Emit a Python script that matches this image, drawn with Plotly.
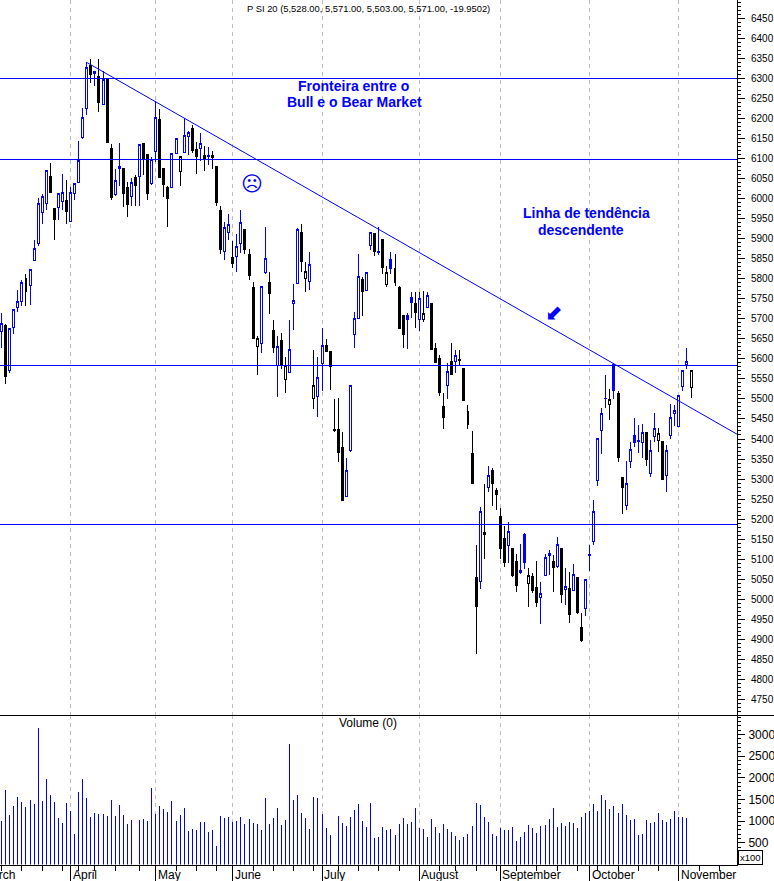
import plotly.graph_objects as go

W, H = 774, 881
AX_R = 737
PANEL = 715
BASE = 864.5
FONT = "Liberation Sans"
BLUE = "#0000ff"

kinds = ("UDUUUUDUUU" "UUDDUUDUUU" "UUDSDUDDUS" "DDUDUDDUUD" "DDUUHUUDDU"
         "DSDDDUUDUU" "DDDHUUDDUD" "HUUUDHUHUU" "DDDDDUUUUD" "UUDSDHSDDD"
         "SSDUHUDDDD" "UDUDDDDDUH" "UDDDDUDDUS" "HDDUUUDUDU" "DUDDUSUUUS"
         "HSDDUUSSUD" "UUHDUUUUUU" "H")

open_ = [5669,5684,5571,5679,5729,5743,5801,5783,5845,5887,
         5965,5987,6056,5975,5977,5992,5995,5942,6012,6040,
         6154,6224,6333,6317,6304,6236,6300,6125,6011,6080,
         6075,6027,6006,6053,6055,6137,6110,6039,6117,6198,
         6075,6028,6029,6112,6067,6116,6156,6175,6123,6125,
         6108,6107,6107,6080,5970,5868,5915,5853,5855,5887,
         5922,5860,5778,5630,5638,5815,5792,5670,5584,5645,
         5549,5567,5739,5788,5915,5800,5794,5500,5505,5589,
         5634,5618,5424,5423,5378,5257,5372,5662,5702,5798,
         5772,5882,5913,5868,5898,5785,5847,5826,5778,5708,
         5708,5753,5738,5699,5698,5729,5738,5626,5601,5480,
         5533,5593,5594,5598,5576,5469,5363,5055,5044,5161,
         5279,5322,5271,5207,5152,5135,5127,5095,5066,5161,
         5038,5057,5030,5004,5058,5108,5095,5081,5127,5024,
         5027,5021,5055,4930,4978,5112,5144,5296,5421,5502,
         5486,5586,5514,5304,5233,5345,5408,5397,5391,5416,
         5315,5407,5396,5393,5308,5408,5463,5432,5531,5586,
         5528]
high = [5714,5686,5675,5723,5773,5798,5811,5823,5896,6001,
        6011,6071,6088,5977,6015,6062,6046,6029,6037,6143,
        6227,6341,6350,6318,6348,6318,6302,6137,6075,6140,
        6076,6042,6052,6058,6137,6137,6110,6105,6243,6223,
        6075,6031,6115,6150,6106,6202,6169,6183,6142,6163,
        6131,6130,6120,6081,5983,5942,5961,5894,5912,5971,
        5923,5875,5792,5657,5783,5930,5818,5696,5657,5665,
        5605,5696,5788,5927,5938,5843,5868,5621,5605,5678,
        5649,5619,5501,5503,5418,5352,5533,5718,5862,5805,
        5815,5916,5915,5930,5898,5832,5868,5861,5783,5708,
        5715,5768,5767,5768,5769,5766,5740,5640,5609,5514,
        5590,5640,5622,5622,5576,5484,5421,5135,5231,5287,
        5332,5327,5277,5227,5183,5192,5127,5112,5137,5165,
        5077,5066,5095,5042,5114,5123,5110,5155,5127,5077,
        5069,5087,5056,4965,5051,5135,5247,5401,5478,5561,
        5526,5591,5521,5304,5344,5392,5452,5434,5437,5417,
        5397,5464,5427,5395,5386,5488,5485,5509,5570,5626,
        5571]
low = [5628,5537,5565,5662,5717,5732,5732,5734,5845,5882,
       5938,5972,6013,5898,5947,5973,5936,5942,5996,6040,
       6150,6210,6288,6281,6216,6236,6138,5996,6008,6031,
       5979,5954,5983,5981,5981,6059,5996,6034,6091,6054,
       6004,5929,6029,6112,6031,6115,6110,6115,6061,6094,
       6069,6083,6073,5981,5861,5847,5898,5828,5817,5865,
       5863,5798,5651,5559,5614,5813,5711,5614,5504,5576,
       5514,5564,5671,5786,5818,5767,5772,5476,5456,5521,
       5617,5522,5417,5342,5245,5256,5367,5626,5700,5708,
       5772,5871,5857,5859,5813,5780,5811,5781,5677,5626,
       5624,5703,5678,5669,5691,5729,5624,5590,5507,5424,
       5501,5561,5565,5582,5496,5424,5290,4863,5025,5100,
       5268,5233,5222,5100,5080,5090,5056,5018,5062,5075,
       4981,5015,4981,4937,5058,5060,5018,5077,4990,4985,
       4940,5020,4964,4893,4958,5070,5135,5282,5362,5477,
       5447,5499,5343,5212,5222,5327,5381,5364,5353,5333,
       5305,5393,5368,5299,5268,5400,5432,5432,5520,5575,
       5503]
close = [5689,5555,5675,5723,5743,5790,5769,5823,5875,5988,
         6006,6071,6016,5949,6012,6016,5969,6016,6037,6095,
         6204,6327,6310,6313,6239,6298,6140,6004,6045,6076,
         6013,5986,6040,6033,6135,6100,6014,6098,6204,6054,
         6036,6001,6112,6150,6105,6157,6165,6121,6105,6137,
         6100,6105,6104,5991,5874,5927,5935,5839,5880,5940,
         5874,5808,5651,5650,5782,5850,5764,5629,5630,5585,
         5584,5624,5745,5922,5844,5819,5835,5533,5553,5634,
         5619,5580,5420,5367,5247,5321,5533,5702,5805,5769,
         5815,5915,5867,5866,5829,5815,5826,5791,5677,5662,
         5699,5741,5716,5750,5713,5758,5624,5592,5517,5454,
         5568,5561,5608,5597,5497,5437,5290,4983,5219,5166,
         5308,5288,5262,5127,5091,5169,5059,5033,5071,5091,
         5059,5022,4993,5014,5104,5114,5078,5136,5012,5031,
         4961,5061,4966,4897,5049,5108,5219,5401,5463,5500,
         5498,5520,5353,5278,5288,5373,5391,5395,5416,5350,
         5371,5425,5413,5300,5371,5453,5471,5508,5570,5593,
         5571]
volume = [1000,1715,1138,1346,1553,1438,1323,1484,1392,3145,
          1461,1969,1600,1438,1069,954,1415,1230,700,1669,
          1969,1530,1092,1184,1161,1161,1115,1484,1115,1369,
          1138,930,1023,0,1023,1046,1000,1761,1161,1346,
          1277,1207,1461,1000,1138,1300,769,815,792,977,
          977,746,792,423,1115,1069,1092,977,1000,1092,
          930,1046,954,930,792,1530,930,1069,1300,907,
          1023,2776,1484,1600,1184,1069,815,1553,1530,1161,
          838,677,0,1115,954,884,1092,1253,1392,1000,
          861,1415,607,631,861,792,815,677,930,1069,
          930,977,1300,838,815,631,1046,861,723,930,
          815,746,654,561,631,700,884,1415,1369,1092,
          977,700,654,838,792,792,861,538,631,746,
          907,838,723,884,907,1046,1300,861,954,884,
          977,954,838,1092,1184,1230,1392,1230,1600,1484,
          1277,1346,1184,1392,1138,1023,1046,677,700,1023,
          954,977,1184,1023,977,1046,1230,1092,1092,1069,
          0]

sessions = list(range(len(close)))
level_prices = [6300.1, 6097.9, 5583.5, 5186.5]
trend_sessions = [21.1, 181.34]
trend_prices = [6339.6, 5412]
month_labels = ["April", "May", "June", "July", "August", "September", "October", "November"]
month_sessions = [17, 38, 57, 79, 103, 123, 145, 167]
week_sessions = [0, 5, 10, 15, 19, 23, 28, 34, 43, 48, 53, 62, 67, 72, 77, 83, 88, 93, 98,
                 108, 112, 117, 122, 127, 132, 137, 142, 147, 152, 157, 162, 172, 177]
price_ticks = list(range(4750, 6451, 50))
volume_ticks = [500, 1000, 1500, 2000, 2500, 3000]

X_RANGE = [-0.41, 181.34]
STEP_PX = 0.4005


def fx(x):
    return x / W


def fy(y):
    return 1 - y / H


styles = {
    "U": (BLUE, "#ffffff"),
    "D": ("#000000", "#000000"),
    "H": ("#000000", "#ffffff"),
    "S": (BLUE, BLUE),
}

fig = go.Figure()
for kind, (edge, fill) in styles.items():
    idx = [i for i, k in enumerate(kinds) if k == kind]
    fig.add_trace(go.Candlestick(
        x=[sessions[i] for i in idx],
        open=[open_[i] for i in idx],
        high=[high[i] for i in idx],
        low=[low[i] for i in idx],
        close=[close[i] for i in idx],
        increasing=dict(line=dict(color=edge, width=1), fillcolor=fill),
        decreasing=dict(line=dict(color=edge, width=1), fillcolor=fill),
        xaxis="x", yaxis="y", showlegend=False, hoverinfo="skip",
    ))

for level in level_prices:
    fig.add_trace(go.Scatter(x=X_RANGE, y=[level, level], mode="lines",
                             line=dict(color=BLUE, width=1), xaxis="x", yaxis="y",
                             showlegend=False, hoverinfo="skip"))
fig.add_trace(go.Scatter(x=trend_sessions, y=trend_prices, mode="lines",
                         line=dict(color=BLUE, width=1), xaxis="x", yaxis="y",
                         showlegend=False, hoverinfo="skip"))
fig.add_trace(go.Scatter(x=sessions, y=volume, mode="markers",
                         marker=dict(size=1, color=BLUE, opacity=0),
                         error_y=dict(type="data", symmetric=False, array=[0] * len(volume), arrayminus=volume,
                                      color=BLUE, thickness=1, width=0),
                         xaxis="x2", yaxis="y2", showlegend=False, hoverinfo="skip"))


def text(x, y, s, size, color="#000000", bold=False, anchor="center", family=FONT, **kw):
    label = f"<b>{s}</b>" if bold else s
    fig.add_annotation(x=fx(x), y=fy(y), xref="paper", yref="paper", text=label, showarrow=False,
                       xanchor=anchor, yanchor="middle",
                       font=dict(family=family, size=size, color=color), **kw)


text(368, 8, "P SI 20 (5,528.00, 5,571.00, 5,503.00, 5,571.00, -19.9502)", 9.4)
text(368, 723, "Volume (0)", 12)
text(353.5, 86, "Fronteira entre o", 14, BLUE, True)
text(354.5, 102, "Bull e o Bear Market", 14, BLUE, True)
text(586, 213, "Linha de tendência", 14, BLUE, True)
text(581, 230, "descendente", 14, BLUE, True)
text(252, 184, "☹", 21, BLUE, family="DejaVu Sans")
text(553.5, 312.5, "⬋", 21, BLUE, family="DejaVu Sans")
text(750, 857.5, "x100", 9.5, bordercolor="#000000", borderwidth=1, borderpad=1, bgcolor="#ffffff")

for label, s in zip(month_labels, month_sessions):
    fig.add_annotation(x=s, y=fy(874.5), xref="x2", yref="paper", text=label, showarrow=False,
                       xanchor="left", yanchor="middle", xshift=0,
                       font=dict(family=FONT, size=12, color="#000000"))
fig.add_annotation(x=3.66, y=fy(874.5), xref="x2", yref="paper", text="March", showarrow=False,
                   xanchor="right", yanchor="middle", font=dict(family=FONT, size=12, color="#000000"))

grid = dict(showgrid=True, gridcolor="#bdbdbd", gridwidth=1, griddash="4px,4px", zeroline=False)

fig.update_layout(
    width=W, height=H, margin=dict(l=0, r=0, t=0, b=0),
    paper_bgcolor="#ffffff", plot_bgcolor="#ffffff",
    showlegend=False, dragmode=False,
    xaxis=dict(domain=[0, fx(AX_R)], range=X_RANGE, anchor="y", tickvals=month_sessions,
               showticklabels=False, ticks="", showline=False, rangeslider=dict(visible=False), **grid),
    yaxis=dict(domain=[fy(PANEL), 1], range=[6400 - (PANEL - 38.5) / STEP_PX, 6400 + 38.5 / STEP_PX],
               side="right", anchor="x", tickvals=price_ticks, ticks="outside", ticklen=7, tickcolor="#000000",
               showline=True, linecolor="#000000", linewidth=1, showgrid=False, zeroline=False,
               tickfont=dict(family=FONT, size=10, color="#000000"), ticklabelstandoff=4,
               minor=dict(dtick=10, ticks="outside", ticklen=3, tickcolor="#000000")),
    xaxis2=dict(domain=[0, fx(AX_R)], range=X_RANGE, anchor="y2", tickvals=month_sessions,
                showticklabels=False, ticks="outside", ticklen=16, tickcolor="#000000",
                showline=True, linecolor="#000000", linewidth=1,
                minor=dict(tickvals=week_sessions, ticks="outside", ticklen=5, tickcolor="#000000", showgrid=False),
                **grid),
    yaxis2=dict(domain=[fy(BASE), fy(PANEL)], range=[0, (BASE - PANEL) / 0.04333],
                side="right", anchor="x2", tickvals=volume_ticks, ticks="outside", ticklen=7, tickcolor="#000000",
                showline=True, linecolor="#000000", linewidth=1, showgrid=False, zeroline=False,
                tickfont=dict(family=FONT, size=12, color="#000000"), ticklabelstandoff=1,
                minor=dict(dtick=100, ticks="outside", ticklen=3, tickcolor="#000000")),
    shapes=[dict(type="line", xref="paper", yref="paper", x0=0, x1=1, y0=fy(PANEL + 0.5), y1=fy(PANEL + 0.5),
                 line=dict(color="#000000", width=1))],
)

post = """
document.body.style.margin='0';document.body.style.overflow='hidden';
function crisp(){
  document.querySelectorAll('.boxlayer path, .errorbar path').forEach(function(p){
    p.setAttribute('shape-rendering','crispEdges');
    p.style.shapeRendering='crispEdges';
  });
}
crisp();setTimeout(crisp,50);setTimeout(crisp,300);
var gd=document.querySelector('.plotly-graph-div');
if(gd&&gd.on){gd.on('plotly_afterplot',crisp);}
"""
fig.write_html("out.html", config=dict(displayModeBar=False), post_script=post)
